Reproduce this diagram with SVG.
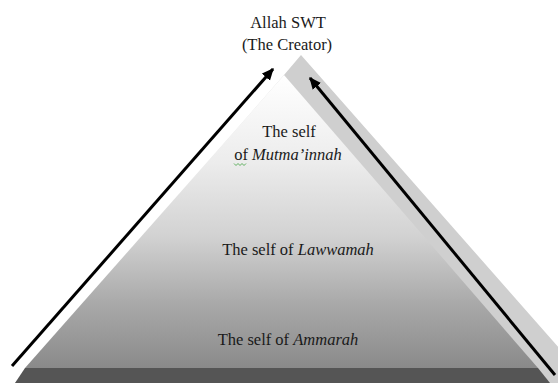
<svg xmlns="http://www.w3.org/2000/svg" width="558" height="383" viewBox="0 0 558 383">
<defs>
<linearGradient id="front" x1="0" y1="75" x2="0" y2="368" gradientUnits="userSpaceOnUse">
<stop offset="0" stop-color="#ffffff"/>
<stop offset="0.3" stop-color="#ececec"/>
<stop offset="0.55" stop-color="#d2d2d2"/>
<stop offset="0.78" stop-color="#a9a9a9"/>
<stop offset="1" stop-color="#8a8a8a"/>
</linearGradient>
<marker id="ah" viewBox="0 0 10 10" refX="9" refY="5" markerWidth="4" markerHeight="4" orient="auto" markerUnits="strokeWidth">
<path d="M0,0.5 L10,5 L0,9.5 z" fill="#000"/>
</marker>
<style>
.t{font-family:"Liberation Serif","Times New Roman",serif;font-size:16.5px;fill:#1a1a1a;text-anchor:middle}
.i{font-style:italic}
.arrow{stroke:#000;stroke-width:3;fill:none;marker-end:url(#ah)}
</style>
</defs>
<rect width="558" height="383" fill="#fff"/>
<g id="pyramid">
<polygon points="301,55 590,383 15,383 284,75" fill="#cfcfcf"/>
<polygon points="284,75 538,368 25,368" fill="url(#front)"/>
<polygon points="25,368 538,368 550,383 15,383" fill="#555"/>
</g>
<g id="apex">
<text class="t" x="288" y="28">Allah SWT</text>
<text class="t" x="287" y="50">(The Creator)</text>
</g>
<g id="mutmainnah">
<text class="t" x="289" y="137">The self</text>
<text class="t" x="288" y="160">of <tspan class="i">Mutma’innah</tspan></text>
<path d="M234,163.5 l2,2 l2,-2 l2,2 l2,-2 l2,2 l2,-2" stroke="#3aa03a" stroke-width="0.8" fill="none"/>
</g>
<g id="lawwamah">
<text class="t" x="298" y="255">The self of <tspan class="i">Lawwamah</tspan></text>
</g>
<g id="ammarah">
<text class="t" x="288" y="345">The self of <tspan class="i">Ammarah</tspan></text>
</g>
<g id="connectors">
<line class="arrow" x1="12" y1="366" x2="273" y2="69"/>
<line class="arrow" x1="555" y1="375" x2="310" y2="78"/>
</g>
</svg>
